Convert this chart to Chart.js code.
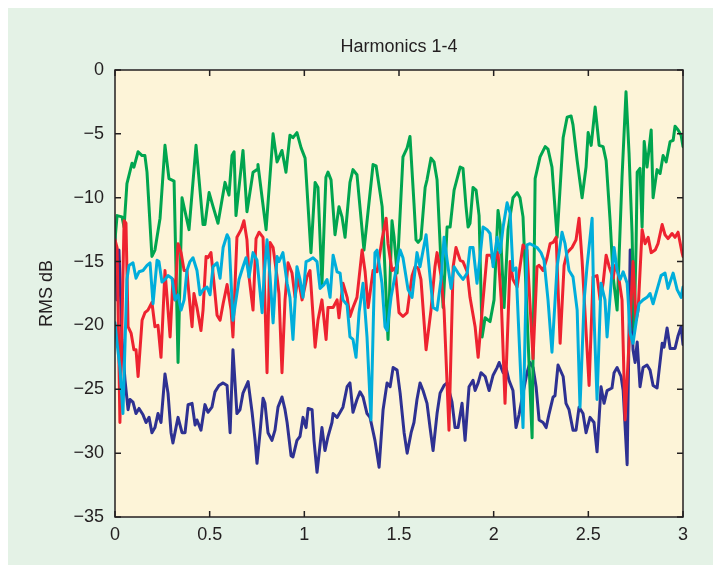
<!DOCTYPE html>
<html>
<head>
<meta charset="utf-8">
<script src="https://cdn.jsdelivr.net/npm/chart.js@4.4.1/dist/chart.umd.min.js"></script>
<style>
html,body{margin:0;padding:0;background:#fff;}
canvas{display:block;}
</style>
</head>
<body>
<canvas id="myChart" width="713" height="565"></canvas>
<script>

var title = "Harmonics 1-4"
var yLabel = "RMS dB"
var xTicks = [0, 0.5, 1, 1.5, 2, 2.5, 3]
var yTicks = [0, -5, -10, -15, -20, -25, -30, -35]

// [time, dB]
var green = [
  [0,-13.3],[.011,-11.4],[.037,-11.5],[.048,-12.3],[.063,-8.9],[.090,-7.3],[.100,-7.6],[.122,-6.4],[.143,-6.7],[.158,-6.7],
  [.169,-8.0],[.195,-14.6],[.211,-14.1],[.238,-11.6],[.264,-5.9],[.285,-8.5],[.312,-8.7],[.333,-22.9],[.354,-10.0],[.391,-12.5],
  [.428,-5.9],[.465,-12.1],[.475,-12.1],[.497,-9.6],[.518,-10.7],[.544,-12.0],[.581,-8.8],[.602,-9.8],[.618,-6.7],[.629,-6.4],
  [.639,-11.4],[.676,-6.3],[.697,-11.1],[.729,-8.0],[.750,-7.8],[.755,-7.4],[.798,-12.5],[.835,-5.0],[.856,-7.2],[.882,-6.3],
  [.903,-8.0],[.924,-5.1],[.940,-5.3],[.961,-4.9],[.983,-6.1],[1.004,-6.9],[1.035,-14.3],[1.057,-8.8],[1.072,-9.2],[1.093,-16.8],
  [1.114,-8.4],[1.125,-8.0],[1.141,-8.6],[1.162,-12.9],[1.183,-10.7],[1.199,-11.5],[1.215,-13.1],[1.241,-8.8],[1.257,-7.8],[1.278,-8.2],
  [1.315,-14.1],[1.363,-7.4],[1.379,-7.5],[1.400,-9.6],[1.411,-10.7],[1.442,-21.1],[1.463,-11.8],[1.474,-13.1],[1.490,-15.9],[1.521,-6.8],
  [1.543,-6.1],[1.558,-5.2],[1.579,-10.4],[1.590,-13.3],[1.601,-13.5],[1.616,-13.2],[1.638,-9.2],[1.648,-8.6],[1.669,-6.9],[1.685,-7.2],
  [1.701,-8.6],[1.733,-18.6],[1.754,-12.3],[1.770,-12.3],[1.791,-9.4],[1.823,-7.6],[1.838,-7.7],[1.854,-10.7],[1.865,-12.3],[1.875,-12.0],
  [1.891,-9.2],[1.907,-9.4],[1.923,-11.4],[1.939,-20.9],[1.955,-19.4],[1.981,-19.7],[2.002,-18.0],[2.023,-11.0],[2.034,-12.1],[2.055,-18.6],
  [2.076,-12.5],[2.102,-10.0],[2.124,-9.6],[2.139,-10.0],[2.155,-11.5],[2.203,-28.8],[2.219,-8.5],[2.245,-6.8],[2.272,-6.0],[2.287,-6.2],
  [2.308,-7.6],[2.335,-13.1],[2.367,-5.3],[2.388,-3.7],[2.409,-3.6],[2.419,-4.3],[2.441,-7.1],[2.467,-10.0],[2.488,-7.6],[2.499,-4.9],
  [2.515,-5.9],[2.536,-2.9],[2.557,-5.9],[2.578,-6.0],[2.594,-7.1],[2.615,-11.8],[2.631,-16.2],[2.652,-18.8],[2.678,-8.4],[2.699,-1.7],
  [2.715,-6.5],[2.731,-12.8],[2.742,-20.4],[2.752,-13.9],[2.758,-8.0],[2.773,-7.7],[2.784,-12.3],[2.795,-5.6],[2.810,-7.6],[2.832,-4.7],
  [2.842,-10.0],[2.863,-7.8],[2.879,-8.1],[2.895,-6.7],[2.911,-7.2],[2.932,-5.6],[2.948,-5.5],[2.958,-4.4],[2.974,-4.7],[2.990,-5.1],
  [3.0,-6.0]
]

var red = [
  [0,-13.3],[.011,-13.9],[.026,-27.6],[.048,-11.8],[.058,-12.0],[.069,-20.1],[.085,-20.6],[.100,-21.9],[.111,-21.9],[.122,-24.0],
  [.143,-19.6],[.158,-19.0],[.174,-18.8],[.195,-18.2],[.211,-20.1],[.227,-20.0],[.243,-22.5],[.264,-15.7],[.275,-17.8],[.291,-20.9],
  [.306,-16.4],[.317,-18.0],[.333,-13.6],[.349,-14.3],[.365,-15.7],[.380,-15.7],[.386,-16.8],[.407,-20.1],[.417,-17.5],[.433,-18.6],
  [.454,-20.4],[.465,-18.8],[.481,-14.6],[.491,-14.7],[.507,-14.3],[.523,-16.7],[.539,-19.2],[.555,-19.6],[.571,-18.3],[.592,-16.8],
  [.613,-18.8],[.623,-20.9],[.644,-13.1],[.666,-12.5],[.681,-11.8],[.697,-13.3],[.708,-16.2],[.729,-18.8],[.745,-13.2],[.761,-12.7],
  [.782,-13.1],[.803,-23.7],[.819,-13.5],[.835,-13.9],[.856,-16.2],[.866,-17.5],[.882,-23.7],[.898,-18.0],[.914,-15.1],[.935,-15.9],
  [.951,-17.8],[.967,-16.2],[.988,-18.0],[1.014,-16.2],[1.030,-15.7],[1.057,-21.7],[1.072,-19.6],[1.093,-18.0],[1.115,-21.1],[1.125,-18.6],
  [1.152,-18.6],[1.173,-18.0],[1.183,-19.4],[1.204,-16.7],[1.226,-17.8],[1.241,-19.3],[1.257,-18.6],[1.278,-17.8],[1.305,-14.1],[1.321,-15.8],
  [1.337,-18.6],[1.363,-15.7],[1.384,-15.8],[1.410,-13.3],[1.432,-11.6],[1.442,-13.6],[1.463,-15.7],[1.479,-15.5],[1.500,-19.0],[1.521,-19.3],
  [1.543,-19.0],[1.569,-16.1],[1.585,-15.4],[1.601,-15.5],[1.616,-16.4],[1.643,-21.9],[1.669,-18.8],[1.690,-15.4],[1.701,-14.3],[1.722,-16.1],
  [1.738,-18.8],[1.764,-28.2],[1.786,-15.4],[1.801,-13.9],[1.823,-14.9],[1.838,-15.0],[1.860,-15.8],[1.875,-17.8],[1.902,-20.1],[1.918,-22.5],
  [1.944,-18.0],[1.965,-14.5],[1.986,-14.5],[1.997,-15.1],[2.023,-14.3],[2.040,-18.0],[2.060,-26.1],[2.087,-15.0],[2.102,-16.4],[2.124,-17.0],
  [2.139,-15.4],[2.155,-13.7],[2.176,-14.1],[2.208,-22.6],[2.229,-15.4],[2.240,-15.3],[2.261,-15.7],[2.282,-14.7],[2.298,-13.6],[2.314,-13.5],
  [2.330,-13.1],[2.351,-21.4],[2.372,-15.3],[2.388,-14.3],[2.414,-13.9],[2.435,-13.3],[2.451,-11.6],[2.467,-14.9],[2.504,-24.7],[2.525,-16.2],
  [2.546,-16.1],[2.562,-18.0],[2.578,-16.7],[2.594,-14.5],[2.610,-15.4],[2.631,-16.3],[2.641,-15.3],[2.657,-15.9],[2.678,-18.0],[2.694,-27.4],
  [2.721,-19.6],[2.736,-15.0],[2.752,-19.6],[2.763,-18.8],[2.784,-12.5],[2.800,-13.6],[2.816,-13.1],[2.832,-14.3],[2.853,-14.1],[2.868,-13.6],
  [2.890,-12.1],[2.905,-12.9],[2.921,-13.2],[2.942,-12.8],[2.958,-13.1],[2.974,-12.7],[2.995,-14.3],[3.0,-14.6]
]

var cyan = [
  [0,-19.8],[.011,-21.4],[.026,-23.3],[.042,-26.9],[.063,-16.4],[.074,-15.3],[.095,-15.1],[.111,-16.3],[.127,-15.8],[.148,-15.7],
  [.169,-15.3],[.185,-15.1],[.201,-18.3],[.222,-14.9],[.232,-15.0],[.248,-16.6],[.264,-16.4],[.280,-16.1],[.301,-16.3],[.317,-18.0],
  [.333,-17.6],[.349,-18.8],[.365,-18.0],[.380,-15.7],[.396,-15.0],[.412,-14.7],[.433,-15.7],[.449,-17.6],[.465,-17.2],[.486,-17.0],
  [.502,-17.6],[.518,-15.4],[.539,-15.1],[.555,-16.3],[.571,-13.9],[.592,-12.9],[.602,-13.2],[.623,-19.6],[.639,-18.0],[.655,-16.4],
  [.676,-15.4],[.692,-14.7],[.708,-16.2],[.729,-14.3],[.750,-14.9],[.777,-19.0],[.787,-16.2],[.803,-13.3],[.819,-16.2],[.835,-19.8],
  [.856,-14.6],[.866,-15.0],[.887,-14.3],[.909,-16.7],[.924,-17.8],[.940,-21.1],[.961,-15.4],[.977,-16.4],[.993,-17.8],[1.009,-15.0],
  [1.025,-14.9],[1.046,-14.7],[1.067,-15.0],[1.083,-17.1],[1.104,-16.8],[1.120,-16.4],[1.136,-17.8],[1.152,-14.5],[1.173,-15.8],[1.189,-15.9],
  [1.204,-18.0],[1.226,-18.4],[1.241,-20.9],[1.257,-21.1],[1.273,-22.5],[1.289,-19.0],[1.310,-16.7],[1.331,-20.9],[1.352,-27.4],[1.373,-14.3],
  [1.384,-14.1],[1.410,-16.7],[1.426,-20.1],[1.437,-20.4],[1.458,-17.8],[1.479,-16.1],[1.506,-14.1],[1.521,-14.7],[1.548,-17.2],[1.569,-17.8],
  [1.595,-14.3],[1.611,-15.4],[1.643,-12.9],[1.664,-16.2],[1.680,-18.6],[1.701,-18.8],[1.722,-16.4],[1.738,-13.1],[1.754,-14.9],[1.775,-17.1],
  [1.791,-15.4],[1.812,-15.9],[1.838,-16.4],[1.860,-15.9],[1.875,-13.9],[1.891,-13.9],[1.912,-16.7],[1.928,-14.6],[1.944,-12.3],[1.965,-12.5],
  [1.981,-12.8],[1.997,-15.4],[2.018,-13.1],[2.034,-14.3],[2.050,-12.3],[2.071,-10.4],[2.087,-11.2],[2.102,-15.7],[2.118,-15.5],[2.155,-28.0],
  [2.176,-13.7],[2.192,-13.6],[2.229,-13.9],[2.250,-14.3],[2.266,-14.9],[2.287,-18.0],[2.308,-22.1],[2.335,-15.4],[2.361,-12.7],[2.377,-13.6],
  [2.398,-15.7],[2.419,-16.2],[2.441,-18.8],[2.456,-26.4],[2.478,-18.0],[2.493,-15.4],[2.520,-11.6],[2.530,-19.3],[2.546,-25.8],[2.567,-16.7],
  [2.588,-18.0],[2.599,-20.9],[2.620,-16.7],[2.636,-13.9],[2.652,-15.7],[2.668,-16.4],[2.684,-15.8],[2.705,-16.7],[2.721,-20.6],[2.736,-21.4],
  [2.758,-19.2],[2.768,-18.3],[2.789,-18.0],[2.810,-17.8],[2.826,-17.5],[2.842,-18.3],[2.863,-17.2],[2.884,-16.1],[2.905,-15.9],[2.921,-17.1],
  [2.948,-15.9],[2.969,-17.2],[2.990,-17.8],[3.0,-17.0]
]

var blue = [
  [0,-12.8],[.011,-18.0],[.021,-14.1],[.037,-21.1],[.053,-24.3],[.069,-26.6],[.079,-25.8],[.095,-26.0],[.111,-26.9],[.127,-26.5],
  [.148,-27.0],[.164,-27.6],[.180,-27.2],[.195,-28.4],[.211,-28.0],[.227,-26.9],[.243,-27.6],[.264,-23.8],[.280,-25.3],[.296,-28.4],
  [.306,-29.2],[.322,-28.0],[.333,-27.2],[.354,-28.4],[.370,-28.4],[.386,-26.2],[.407,-26.1],[.423,-27.8],[.433,-27.4],[.454,-28.2],
  [.475,-26.2],[.491,-26.8],[.512,-26.4],[.528,-25.2],[.549,-24.7],[.571,-24.5],[.592,-24.7],[.608,-28.4],[.623,-21.9],[.644,-26.9],
  [.660,-26.6],[.676,-25.3],[.703,-24.4],[.724,-26.8],[.740,-29.0],[.750,-30.8],[.766,-28.4],[.782,-25.7],[.792,-26.1],[.808,-28.4],
  [.829,-29.0],[.845,-28.2],[.861,-26.4],[.882,-25.6],[.898,-26.6],[.909,-27.6],[.930,-30.2],[.940,-30.3],[.961,-29.0],[.977,-28.7],
  [.993,-27.2],[1.009,-28.0],[1.020,-26.5],[1.041,-26.6],[1.051,-29.0],[1.067,-31.5],[1.093,-28.0],[1.109,-29.8],[1.125,-28.7],[1.146,-27.6],
  [1.152,-26.9],[1.173,-27.2],[1.189,-26.8],[1.204,-26.4],[1.226,-24.8],[1.241,-24.5],[1.257,-26.8],[1.278,-25.8],[1.294,-25.2],[1.310,-25.6],
  [1.331,-26.9],[1.347,-27.2],[1.373,-29.0],[1.395,-31.1],[1.416,-26.6],[1.437,-24.5],[1.453,-24.8],[1.469,-23.3],[1.490,-23.5],[1.506,-25.3],
  [1.527,-28.4],[1.543,-30.0],[1.564,-28.4],[1.579,-27.6],[1.595,-25.8],[1.611,-24.5],[1.627,-25.1],[1.648,-26.1],[1.664,-28.0],[1.680,-29.8],
  [1.701,-26.9],[1.717,-25.3],[1.738,-24.7],[1.754,-24.5],[1.780,-26.0],[1.796,-28.0],[1.812,-28.0],[1.833,-26.1],[1.849,-29.0],[1.870,-24.8],
  [1.891,-24.3],[1.902,-25.1],[1.918,-24.5],[1.933,-23.7],[1.955,-24.0],[1.976,-25.1],[1.997,-23.9],[2.018,-23.3],[2.029,-22.9],[2.050,-23.7],
  [2.065,-23.3],[2.081,-24.3],[2.102,-25.1],[2.118,-28.0],[2.134,-27.0],[2.155,-25.3],[2.176,-23.7],[2.192,-22.9],[2.208,-23.3],[2.224,-24.8],
  [2.240,-27.4],[2.261,-27.6],[2.277,-28.0],[2.293,-26.9],[2.314,-25.6],[2.324,-25.5],[2.340,-23.1],[2.367,-24.0],[2.382,-26.1],[2.398,-26.6],
  [2.419,-28.2],[2.435,-28.2],[2.451,-26.4],[2.472,-26.9],[2.488,-28.4],[2.509,-27.2],[2.530,-27.6],[2.546,-29.9],[2.567,-24.8],[2.583,-26.1],
  [2.599,-25.1],[2.625,-24.9],[2.636,-23.7],[2.652,-23.3],[2.673,-24.0],[2.684,-25.1],[2.705,-30.9],[2.721,-14.1],[2.736,-21.9],[2.747,-22.9],
  [2.758,-21.3],[2.773,-24.8],[2.789,-23.3],[2.810,-23.1],[2.826,-23.5],[2.842,-24.7],[2.863,-24.9],[2.890,-21.4],[2.900,-21.7],[2.916,-20.2],
  [2.932,-21.8],[2.958,-21.8],[2.974,-20.8],[2.990,-20.1],[3.0,-21.5]
]

var ink = "#231f20"
var font = {family: "'Liberation Sans', Arial, sans-serif", size: 18, weight: "normal"}

function pts(arr) {
  return arr.map(function (p) { return {x: p[0], y: p[1]} })
}

function minus(v) {
  return v < 0 ? "\u2212" + Math.abs(v) : String(v)
}

// green panel, cream plot box, black frame with inward ticks
var frame = {
  id: "frame",
  beforeDraw: function (chart) {
    var ctx = chart.ctx, a = chart.chartArea
    ctx.save()
    ctx.fillStyle = "#ffffff"
    ctx.fillRect(0, 0, chart.width, chart.height)
    ctx.fillStyle = "#e4f2e6"
    ctx.fillRect(8, 8, chart.width - 8, chart.height - 8)
    ctx.fillStyle = "#fdf4d8"
    ctx.fillRect(a.left, a.top, a.right - a.left, a.bottom - a.top)
    ctx.restore()
  },
  afterDraw: function (chart) {
    var ctx = chart.ctx, a = chart.chartArea
    var xs = chart.scales.x, ys = chart.scales.y
    ctx.save()
    ctx.strokeStyle = ink
    ctx.lineWidth = 1.5
    ctx.strokeRect(a.left, a.top, a.right - a.left, a.bottom - a.top)
    ctx.beginPath()
    xTicks.forEach(function (v) {
      var px = xs.getPixelForValue(v)
      ctx.moveTo(px, a.bottom); ctx.lineTo(px, a.bottom - 6)
      ctx.moveTo(px, a.top); ctx.lineTo(px, a.top + 6)
    })
    yTicks.forEach(function (v) {
      var py = ys.getPixelForValue(v)
      ctx.moveTo(a.left, py); ctx.lineTo(a.left + 6, py)
      ctx.moveTo(a.right, py); ctx.lineTo(a.right - 6, py)
    })
    ctx.stroke()
    ctx.restore()
  }
}

function line(label, data, color) {
  return {
    label: label,
    data: pts(data),
    borderColor: color,
    borderWidth: 3,
    borderJoinStyle: "round",
    borderCapStyle: "round",
    pointRadius: 0,
    tension: 0,
    fill: false
  }
}

new Chart("myChart", {
  type: "line",
  data: {
    datasets: [
      line("H4", cyan, "#00aedb"),
      line("H3", red, "#ee2330"),
      line("H2", green, "#00a54f"),
      line("H1", blue, "#2e3192")
    ]
  },
  options: {
    responsive: false,
    animation: false,
    devicePixelRatio: 1,
    layout: {padding: {left: 0, right: 30, top: 0, bottom: 0}},
    plugins: {
      legend: {display: false},
      tooltip: {enabled: false},
      title: {
        display: true,
        text: title,
        fullSize: false,
        color: ink,
        font: font,
        padding: {top: 36, bottom: 12.4}
      }
    },
    scales: {
      x: {
        type: "linear",
        min: 0,
        max: 3,
        grid: {display: false, drawTicks: false, tickLength: 0},
        border: {display: false},
        afterBuildTicks: function (s) { s.ticks = xTicks.map(function (v) { return {value: v} }) },
        afterFit: function (s) { s.height = 48 },
        ticks: {padding: 7, color: ink, font: font, maxRotation: 0, autoSkip: false,
          callback: function (v) { return String(v) }}
      },
      y: {
        type: "linear",
        min: -35,
        max: 0,
        grid: {display: false, drawTicks: false, tickLength: 0},
        border: {display: false},
        afterBuildTicks: function (s) { s.ticks = yTicks.map(function (v) { return {value: v} }) },
        afterFit: function (s) { s.width = 115 },
        ticks: {padding: 11, color: ink, font: font, autoSkip: false, callback: minus},
        title: {display: true, text: yLabel, color: ink, font: font, padding: {top: 36, bottom: 0}}
      }
    }
  },
  plugins: [frame]
})

</script>
</body>
</html>
